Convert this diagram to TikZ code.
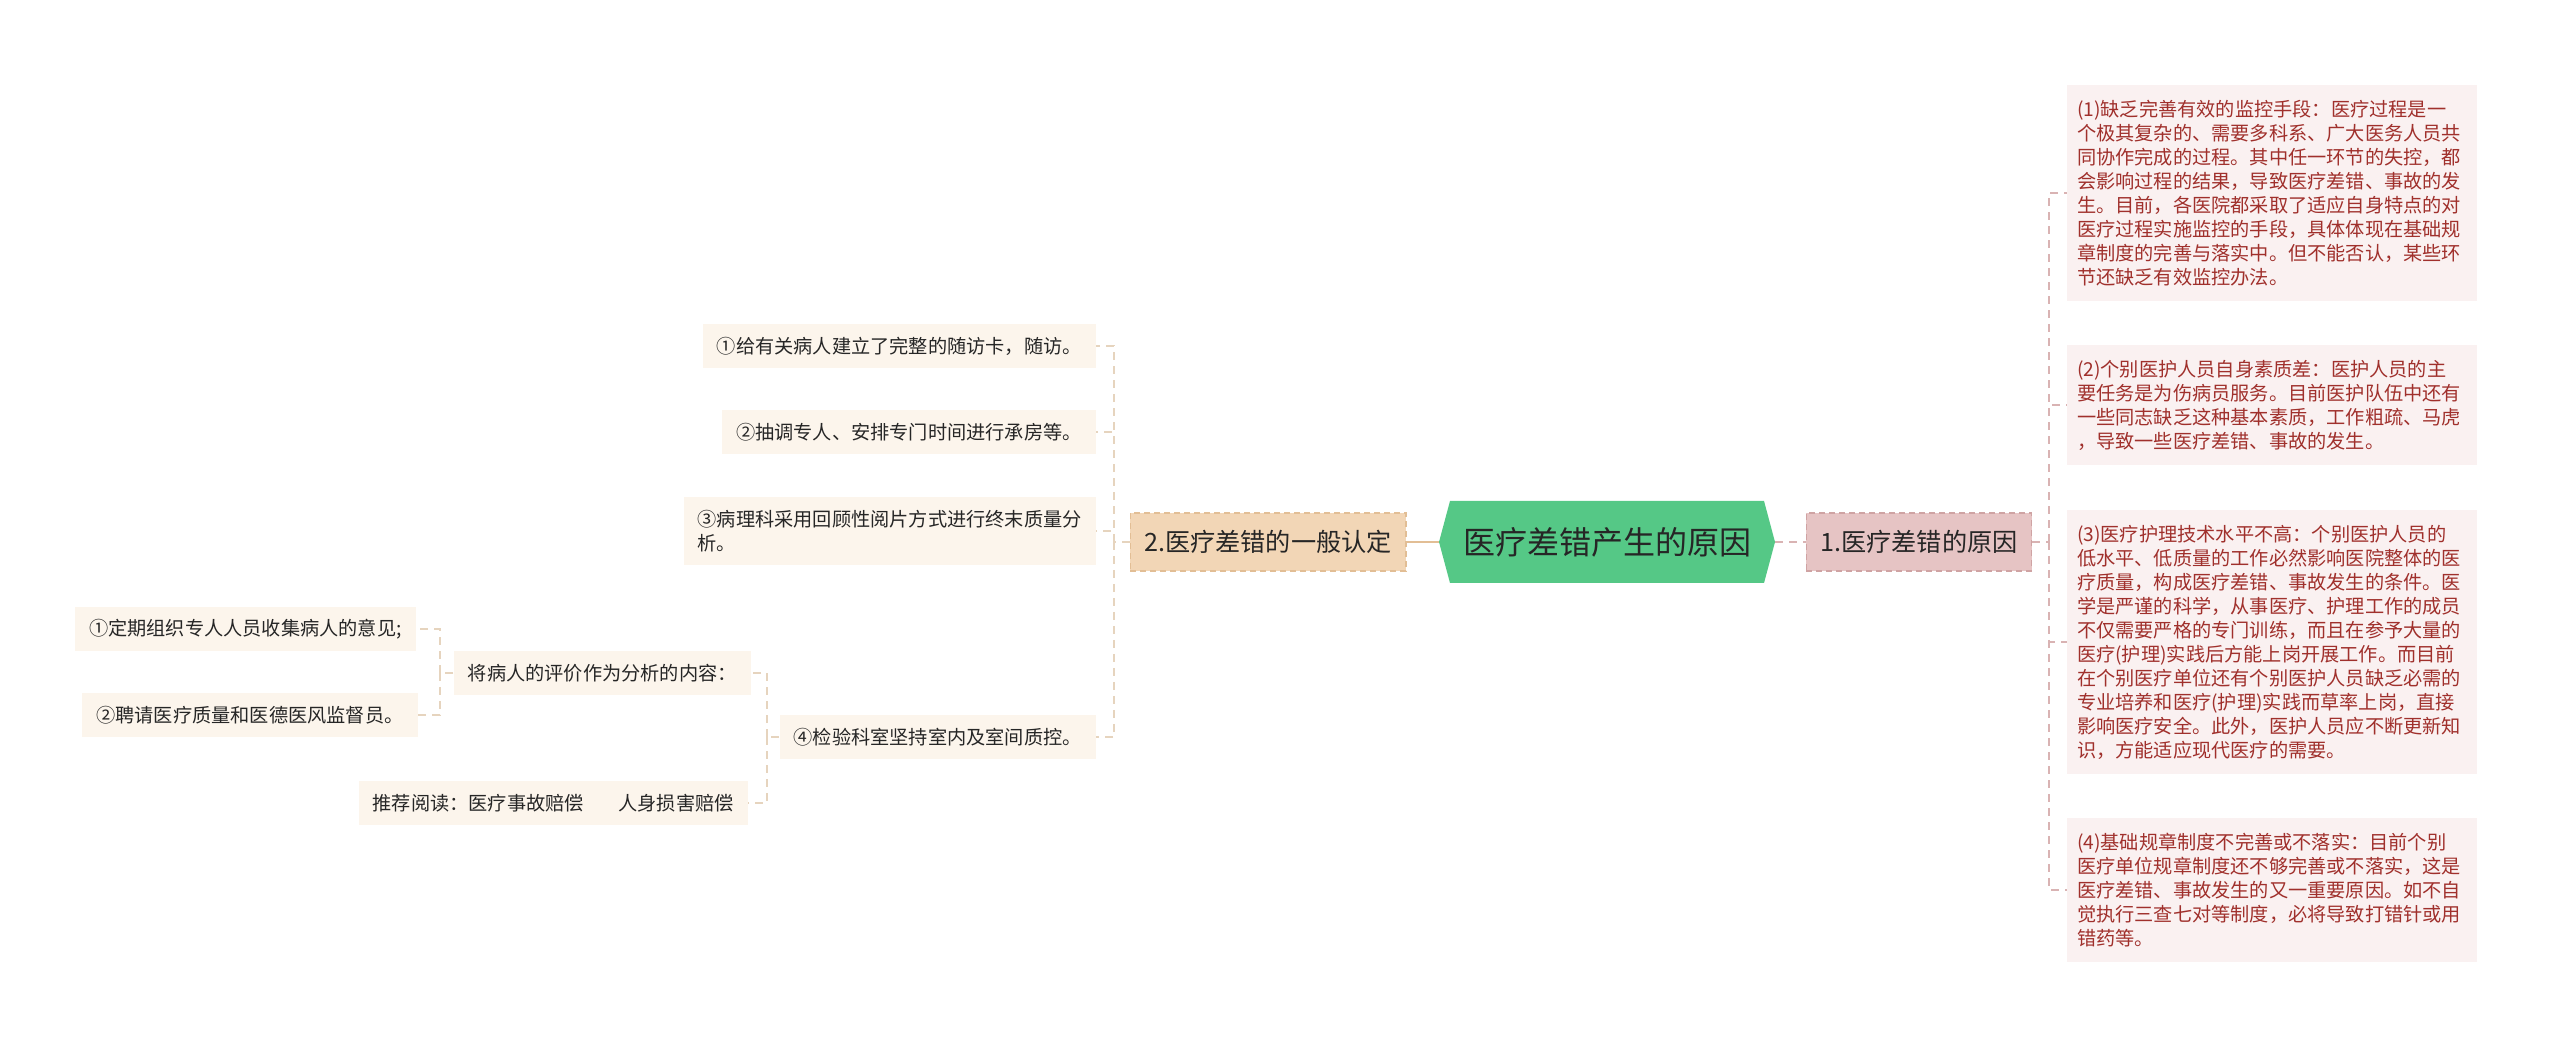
\documentclass[tikz,border=0pt]{standalone}
\usepackage{fontspec}
\setmainfont{Noto Sans CJK SC}
\usetikzlibrary{shapes.symbols}
\definecolor{rootgreen}{HTML}{55C886}
\definecolor{pinkfill}{HTML}{E6C4C4}
\definecolor{pinkedge}{HTML}{CFA3A3}
\definecolor{tanfill}{HTML}{F2D6B6}
\definecolor{tanedge}{HTML}{E2BE95}
\definecolor{rleaffill}{HTML}{FAF1F1}
\definecolor{rleaftext}{HTML}{A0302C}
\definecolor{lleaffill}{HTML}{FCF5EC}
\definecolor{llinecol}{HTML}{E6D4BE}
\definecolor{rlinecol}{HTML}{D9B3B3}
\begin{document}
\begin{tikzpicture}[x=0.5pt,y=-0.5pt,
    rootbox/.style={shape=signal,signal to=west and east,signal pointer angle=150,fill=rootgreen,minimum width=168pt,minimum height=41pt,inner sep=0pt,font=\fontsize{16}{19}\selectfont,text=black!85},
    midbox/.style={draw,dash pattern=on 3pt off 2pt,line width=0.6pt,minimum height=29pt,inner xsep=7pt,font=\fontsize{12.6}{15}\selectfont,text=black!85},
    rleaf/.style={fill=rleaffill,text=rleaftext,text width=195pt,align=left,inner xsep=5pt,inner ysep=7.5pt,font=\fontsize{9.6}{12}\selectfont},
    lleaf/.style={fill=lleaffill,text=black!85,align=left,anchor=east,inner xsep=7pt,minimum height=22pt,font=\fontsize{9.6}{12}\selectfont},
    lline/.style={draw=llinecol,line width=0.8pt,dash pattern=on 4pt off 3pt},
    rline/.style={draw=rlinecol,line width=0.8pt,dash pattern=on 4pt off 3pt}]
\useasboundingbox (0,0) rectangle (2560,1047);
\node[rootbox] (root) at (1607,542) {医疗差错产生的原因};
\node[midbox,fill=pinkfill,draw=pinkedge,minimum width=112pt] (n1) at (1919,542) {1.医疗差错的原因};
\node[midbox,fill=tanfill,draw=tanedge,minimum width=136pt] (n2) at (1268,542) {2.医疗差错的一般认定};
\node[rleaf] (r1) at (2272,193) {(1)缺乏完善有效的监控手段：医疗过程是一\\个极其复杂的、需要多科系、广大医务人员共\\同协作完成的过程。其中任一环节的失控，都\\会影响过程的结果，导致医疗差错、事故的发\\生。目前，各医院都采取了适应自身特点的对\\医疗过程实施监控的手段，具体体现在基础规\\章制度的完善与落实中。但不能否认，某些环\\节还缺乏有效监控办法。};
\node[rleaf] (r2) at (2272,405) {(2)个别医护人员自身素质差：医护人员的主\\要任务是为伤病员服务。目前医护队伍中还有\\一些同志缺乏这种基本素质，工作粗疏、马虎\\，导致一些医疗差错、事故的发生。};
\node[rleaf] (r3) at (2272,642) {(3)医疗护理技术水平不高：个别医护人员的\\低水平、低质量的工作必然影响医院整体的医\\疗质量，构成医疗差错、事故发生的条件。医\\学是严谨的科学，从事医疗、护理工作的成员\\不仅需要严格的专门训练，而且在参予大量的\\医疗(护理)实践后方能上岗开展工作。而目前\\在个别医疗单位还有个别医护人员缺乏必需的\\专业培养和医疗(护理)实践而草率上岗，直接\\影响医疗安全。此外，医护人员应不断更新知\\识，方能适应现代医疗的需要。};
\node[rleaf] (r4) at (2272,890) {(4)基础规章制度不完善或不落实：目前个别\\医疗单位规章制度还不够完善或不落实，这是\\医疗差错、事故发生的又一重要原因。如不自\\觉执行三查七对等制度，必将导致打错针或用\\错药等。};
\node[lleaf] (l1) at (1096,346) {①给有关病人建立了完整的随访卡，随访。};
\node[lleaf] (l2) at (1096,432) {②抽调专人、安排专门时间进行承房等。};
\node[lleaf,minimum height=34pt] (l3) at (1096,531) {③病理科采用回顾性阅片方式进行终末质量分\\析。};
\node[lleaf] (l4) at (1096,737) {④检验科室坚持室内及室间质控。};
\node[lleaf] (s1) at (751,673) {将病人的评价作为分析的内容：};
\node[lleaf] (s2) at (748,803) {推荐阅读：医疗事故赔偿\hspace{1.8em}人身损害赔偿};
\node[lleaf] (c1) at (416,629) {①定期组织专人人员收集病人的意见;};
\node[lleaf] (c2) at (418,715) {②聘请医疗质量和医德医风监督员。};
\coordinate (rt) at (2049,542);
\coordinate (lt) at (1114,542);
\coordinate (st) at (767,737);
\coordinate (ct) at (440,673);
\draw[draw=tanedge,line width=0.8pt] (root.west) -- (n2.east);
\draw[rline] (root.east) -- (n1.west);
\draw[rline] (n1.east) -- (rt);
\draw[rline] (rt) |- (r1.west);
\draw[rline] (rt) |- (r2.west);
\draw[rline] (rt) |- (r3.west);
\draw[rline] (rt) |- (r4.west);
\draw[lline] (n2.west) -- (lt);
\draw[lline] (lt) |- (l1.east);
\draw[lline] (lt) |- (l2.east);
\draw[lline] (lt) |- (l3.east);
\draw[lline] (lt) |- (l4.east);
\draw[lline] (l4.west) -- (st);
\draw[lline] (st) |- (s1.east);
\draw[lline] (st) |- (s2.east);
\draw[lline] (s1.west) -- (ct);
\draw[lline] (ct) |- (c1.east);
\draw[lline] (ct) |- (c2.east);
\end{tikzpicture}
\end{document}
